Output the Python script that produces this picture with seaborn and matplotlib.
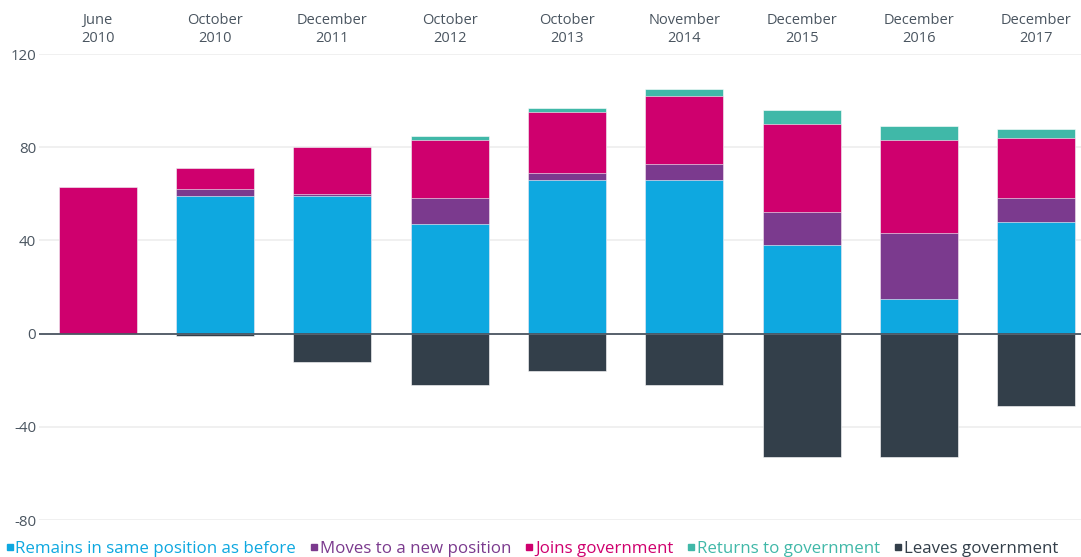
import numpy as np
import pandas as pd
import matplotlib
matplotlib.use("Agg")
import matplotlib.pyplot as plt
from matplotlib.lines import Line2D
import seaborn as sns

categories = ["June\n2010", "October\n2010", "December\n2011", "October\n2012",
              "October\n2013", "November\n2014", "December\n2015", "December\n2016",
              "December\n2017"]
remains = [0, 59, 59, 47, 66, 66, 38, 15, 48]
moves = [0, 3, 1, 11, 3, 7, 14, 28, 10]
joins = [63, 9, 20, 25, 26, 29, 38, 40, 26]
returns = [0, 0, 0, 2, 2, 3, 6, 6, 4]
leaves = [0, -1, -12, -22, -16, -22, -53, -53, -31]

series_names = ["Remains in same position as before", "Moves to a new position",
                "Joins government", "Returns to government", "Leaves government"]
colors = ["#0EA8E0", "#7B3A8E", "#CF006E", "#40B8A8", "#333F4A"]

df = pd.DataFrame({"cat": categories, "remains": remains, "moves": moves,
                   "joins": joins, "returns": returns, "leaves": leaves})
df["c1"] = df["remains"]
df["c2"] = df["c1"] + df["moves"]
df["c3"] = df["c2"] + df["joins"]
df["c4"] = df["c3"] + df["returns"]

sns.set_theme(style="white")
plt.rcParams["font.family"] = ["Open Sans", "DejaVu Sans"]

fig = plt.figure(figsize=(10.81, 5.57), dpi=100)
ax = fig.add_axes([39 / 1081, (557 - 520) / 557, 1 - 39 / 1081, (520 - 54) / 557])

bw = 0.665
for col, c in zip(["c4", "c3", "c2", "c1"], [colors[3], colors[2], colors[1], colors[0]]):
    sns.barplot(data=df, x="cat", y=col, color=c, width=bw, saturation=1,
                edgecolor="white", linewidth=0.4, ax=ax, zorder=3)
sns.barplot(data=df, x="cat", y="leaves", color=colors[4], width=bw, saturation=1,
            edgecolor="white", linewidth=0.4, ax=ax, zorder=3)

ax.set_ylim(-80, 120)
ax.set_xlim(-0.5, 8.38)
ax.set_yticks([-80, -40, 0, 40, 80, 120])
ax.set_yticklabels(["-80", "-40", "0", "40", "80", "120"])
ax.grid(axis="y", color="#eeeeee", linewidth=1.2, zorder=0)
ax.set_axisbelow(True)
ax.axhline(0, color="#4B5662", linewidth=1.3, zorder=4)
for s in ax.spines.values():
    s.set_visible(False)
ax.set_xlabel("")
ax.set_ylabel("")
ax.xaxis.tick_top()
ax.tick_params(axis="x", length=0, pad=5.5, labelsize=10.5, labelcolor="#4A5560")
ax.tick_params(axis="y", length=0, pad=2, labelsize=10.8, labelcolor="#4A5560")
for t in ax.get_xticklabels():
    t.set_linespacing(1.3)

handles = [Line2D([], [], marker="s", linestyle="none", markersize=4.5,
                  markerfacecolor=c, markeredgecolor=c) for c in colors]
leg = fig.legend(handles, series_names, loc="lower left", bbox_to_anchor=(0.0, -0.012),
                 ncol=5, frameon=False, fontsize=12.2, handlelength=0.35,
                 handletextpad=0.15, columnspacing=0.9, borderaxespad=0.0,
                 labelcolor=colors)
for t in leg.get_texts():
    t.set_fontweight("medium")

fig.savefig("out.png", dpi=100)
